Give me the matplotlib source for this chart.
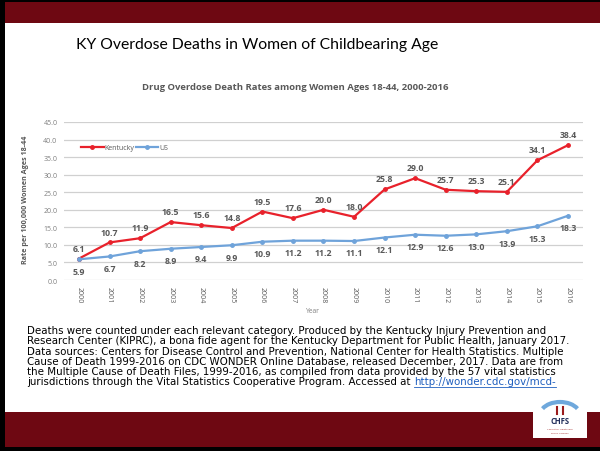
import matplotlib
matplotlib.use("Agg")
import matplotlib.pyplot as plt
from matplotlib.patches import Rectangle, Arc

years = [str(y) for y in range(2000, 2017)]
kentucky = [6.1, 10.7, 11.9, 16.5, 15.6, 14.8, 19.5, 17.6, 20.0, 18.0,
            25.8, 29.0, 25.7, 25.3, 25.1, 34.1, 38.4]
us = [5.9, 6.7, 8.2, 8.9, 9.4, 9.9, 10.9, 11.2, 11.2, 11.1,
      12.1, 12.9, 12.6, 13.0, 13.9, 15.3, 18.3]
yticks = [0, 5, 10, 15, 20, 25, 30, 35, 40, 45]

W, H = 600, 452
fig = plt.figure(figsize=(6, 4.52), dpi=100)
fig.patch.set_facecolor("white")

def fx(px):
    return px / W

def fy(py):
    return 1 - py / H

maroon = "#6E0812"
# top band
fig.add_artist(Rectangle((0, fy(24)), 1, fy(3) - fy(24), transform=fig.transFigure,
                         facecolor=maroon, edgecolor="none", zorder=-5))
fig.add_artist(Rectangle((0, fy(3)), 1, 3 / H, transform=fig.transFigure,
                         facecolor="black", edgecolor="none", zorder=-5))
# bottom band
fig.add_artist(Rectangle((0, fy(448)), 1, fy(413) - fy(448), transform=fig.transFigure,
                         facecolor=maroon, edgecolor="none", zorder=-5))
fig.add_artist(Rectangle((0, 0), 1, 4 / H, transform=fig.transFigure,
                         facecolor="black", edgecolor="none", zorder=-5))
# left border
fig.add_artist(Rectangle((0, 0), 5 / W, 1, transform=fig.transFigure,
                         facecolor="black", edgecolor="none", zorder=-5))

# Slide title
fig.text(fx(257), fy(45), "KY Overdose Deaths in Women of Childbearing Age",
         ha="center", va="center", fontsize=11.3, family="Lato", color="black")
# Chart title
fig.text(fx(295), fy(87), "Drug Overdose Death Rates among Women Ages 18-44, 2000-2016",
         ha="center", va="center", fontsize=6.8, family="Open Sans",
         fontweight="bold", color="#595959")

ax = fig.add_axes([fx(63.7), fy(281), fx(583.3) - fx(63.7), fy(123) - fy(281)])
x = list(range(len(years)))
red = "#E8212B"
blue = "#6FA3DA"
ax.plot(x, kentucky, color=red, lw=1.6, marker="o", ms=2.5, label="Kentucky", zorder=3)
ax.plot(x, us, color=blue, lw=1.6, marker="o", ms=2.5, label="US", zorder=3)

ax.set_xlim(-0.5, len(years) - 0.5)
ax.set_ylim(0, 45)
ax.set_yticks(yticks)
ax.set_yticklabels([f"{v:.1f}" for v in yticks], fontsize=5.0, color="#7F7F7F",
                   family="Open Sans")
ax.set_xticks(x)
ax.set_xticklabels(years, rotation=-90, fontsize=5.0, color="#595959",
                   family="Open Sans")
ax.tick_params(length=0)
ax.tick_params(axis="x", pad=4)
ax.tick_params(axis="y", pad=4.5)
ax.grid(axis="y", color="#D0D0D0", lw=0.9)
ax.set_axisbelow(True)
for s in ax.spines.values():
    s.set_visible(False)
ax.set_facecolor("none")

for i, v in enumerate(kentucky):
    ax.annotate(f"{v:.1f}", (i, v), xytext=(0, 7.5), textcoords="offset points",
                ha="center", va="center", fontsize=6.3, fontweight="bold",
                color="#595959", family="Open Sans")
for i, v in enumerate(us):
    ax.annotate(f"{v:.1f}", (i, v), xytext=(0, -8.5), textcoords="offset points",
                ha="center", va="center", fontsize=6.3, fontweight="bold",
                color="#595959", family="Open Sans")

leg = ax.legend(loc="upper left", bbox_to_anchor=(0.022, 0.9), ncol=2, frameon=False,
                handlelength=3.2, columnspacing=0.3, handletextpad=0.1,
                prop={"family": "Open Sans", "size": 5.0})
for t in leg.get_texts():
    t.set_color("#595959")

fig.text(fx(26), fy(200), "Rate per 100,000 Women Ages 18-44", rotation=90,
         ha="center", va="center", fontsize=5.2, fontweight="bold", color="#595959",
         family="Open Sans")
fig.text(fx(313), fy(312), "Year", ha="center", va="center", fontsize=4.8,
         color="#7F7F7F", family="Open Sans")

foot = [
    "Deaths were counted under each relevant category. Produced by the Kentucky Injury Prevention and",
    "Research Center (KIPRC), a bona fide agent for the Kentucky Department for Public Health, January 2017.",
    "Data sources: Centers for Disease Control and Prevention, National Center for Health Statistics. Multiple",
    "Cause of Death 1999-2016 on CDC WONDER Online Database, released December, 2017. Data are from",
    "the Multiple Cause of Death Files, 1999-2016, as compiled from data provided by the 57 vital statistics",
    "jurisdictions through the Vital Statistics Cooperative Program. Accessed at ",
]
y0 = 331
lh = 10.3
fs = 7.35
for k, line in enumerate(foot):
    t = fig.text(fx(27), fy(y0 + k * lh), line, ha="left", va="center", fontsize=fs,
                 family="DejaVu Sans", color="black")
fig.canvas.draw()
r = fig.canvas.get_renderer()
bb = t.get_window_extent(renderer=r)
fig.text(bb.x1 / W, fy(y0 + 5 * lh), "http://wonder.cdc.gov/mcd-", ha="left",
         va="center", fontsize=fs, family="DejaVu Sans", color="#1F5FBF")
bb2 = fig.texts[-1].get_window_extent(renderer=r)
fig.add_artist(plt.Line2D([bb2.x0 / W, bb2.x1 / W], [fy(y0 + 5 * lh + 5)] * 2,
                          transform=fig.transFigure, color="#1F5FBF", lw=0.6))

# logo
lax = fig.add_axes([fx(533), fy(439), fx(587) - fx(533), fy(392) - fy(439)], zorder=5)
lax.set_xlim(0, 54)
lax.set_ylim(47, 0)
lax.set_xticks([])
lax.set_yticks([])
for s in lax.spines.values():
    s.set_visible(False)
lax.set_facecolor("white")
lax.add_patch(Arc((27, 24), 40, 26, theta1=200, theta2=340, color="#6FA8DC", lw=3))
lax.plot([24, 24], [16, 23], color="#9B1B1B", lw=1.5)
lax.plot([30, 30], [16, 23], color="#9B1B1B", lw=1.5)
lax.text(27, 30, "CHFS", ha="center", va="center", fontsize=5.5, fontweight="bold",
         color="#1F2D5A", family="Open Sans")
lax.text(27, 37, "Cabinet for Health and", ha="center", va="center", fontsize=1.6,
         color="#9B1B1B")
lax.text(27, 41, "Family Services", ha="center", va="center", fontsize=1.6,
         color="#9B1B1B")

fig.savefig("out.png", dpi=100, facecolor="white")
